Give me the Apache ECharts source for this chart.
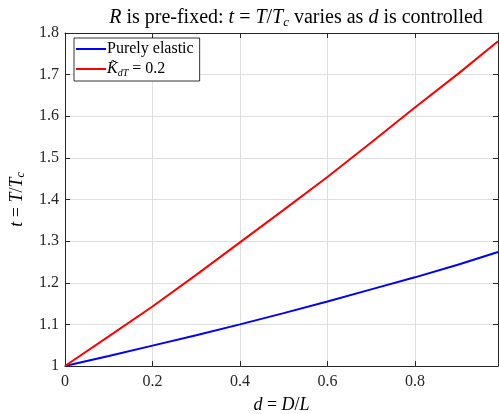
<!DOCTYPE html>
<html>
<head>
<meta charset="utf-8">
<script src="https://cdn.jsdelivr.net/npm/echarts@6/dist/echarts.min.js"></script>
<style>
html, body { margin: 0; padding: 0; background: #fff; }
#chartDiv { width: 499px; height: 414px; }
</style>
</head>
<body>
<div id="chartDiv"></div>
<script>
var myChart = echarts.init(document.getElementById('chartDiv'));

// d = D/L
var dValues = [0, 0.1, 0.2, 0.3, 0.4, 0.5, 0.6, 0.7, 0.8, 0.9, 0.99];
// t = T/Tc, purely elastic
var elasticT = [1, 1.024, 1.049, 1.074, 1.100, 1.127, 1.155, 1.184, 1.213, 1.244, 1.274];
// t = T/Tc, K_dT = 0.2
var kdtT = [1, 1.071, 1.143, 1.219, 1.297, 1.375, 1.454, 1.537, 1.621, 1.703, 1.780];
var seriesNames = ['Purely elastic', 'K\u0303dT = 0.2'];

function pairs(xs, ys) {
    return xs.map(function (x, i) { return [x, ys[i]]; });
}

var axisColor = '#262626';
var fontFam = 'Liberation Serif';
var rich = {
    i: { fontStyle: 'italic', fontFamily: fontFam, fontSize: 18, color: '#000' },
    s: { fontStyle: 'italic', fontFamily: fontFam, fontSize: 12, color: '#000', verticalAlign: 'bottom', padding: [8, 0, 0, 0] },
    n: { fontFamily: fontFam, fontSize: 18, color: '#000' }
};
var titleRich = {
    i: { fontStyle: 'italic', fontFamily: fontFam, fontSize: 20, color: '#000' },
    s: { fontStyle: 'italic', fontFamily: fontFam, fontSize: 13, color: '#000', verticalAlign: 'bottom', padding: [9, 0, 0, 0] },
    n: { fontFamily: fontFam, fontSize: 20, color: '#000' }
};

option = {
    backgroundColor: '#fff',
    animation: false,
    title: {
        text: '{i|R}{n| is pre-fixed: }{i|t}{n| = }{i|T}{n|/}{i|T}{s|c}{n| varies as }{i|d}{n| is controlled}',
        left: 291,
        textAlign: 'center',
        top: 2,
        textStyle: { fontWeight: 'normal', rich: titleRich }
    },
    legend: {
        orient: 'vertical',
        left: 74,
        top: 38,
        padding: [3, 6, 3, 2],
        itemGap: 4,
        itemWidth: 30,
        itemHeight: 2,
        icon: 'rect',
        borderColor: '#000',
        borderWidth: 0.8,
        borderRadius: 0,
        backgroundColor: '#fff',
        data: seriesNames,
        formatter: function (name) {
            if (name === seriesNames[1]) {
                return '{i|K\u0303}{s|dT}{n| = 0.2}';
            }
            return '{n|' + name + '}';
        },
        textStyle: {
            padding: [0, 0, 0, -4],
            rich: {
                i: { fontStyle: 'italic', fontFamily: fontFam, fontSize: 16, color: '#000', lineHeight: 18 },
                s: { fontStyle: 'italic', fontFamily: fontFam, fontSize: 10, color: '#000', verticalAlign: 'bottom', padding: [6, 0, 0, 0] },
                n: { fontFamily: fontFam, fontSize: 16, color: '#000', lineHeight: 18 }
            }
        }
    },
    grid: { left: 65, right: 1, top: 33, bottom: 48, containLabel: false, outerBoundsMode: 'none' },
    xAxis: [
        {
            type: 'value',
            min: 0,
            max: 0.99,
            interval: 0.2,
            name: '{i|d}{n| = }{i|D}{n|/}{i|L}',
            nameLocation: 'middle',
            nameGap: 30,
            nameTextStyle: { rich: rich },
            axisLine: { show: true, onZero: false, lineStyle: { color: axisColor, width: 1 } },
            axisTick: { show: true, inside: true, length: 5, lineStyle: { color: axisColor } },
            axisLabel: { color: '#262626', fontFamily: fontFam, fontSize: 16, margin: 8, showMaxLabel: false },
            splitLine: { show: true, lineStyle: { color: '#dfdfdf', width: 1 } }
        },
        {
            type: 'value',
            position: 'top',
            min: 0,
            max: 0.99,
            interval: 0.2,
            axisLine: { show: true, onZero: false, lineStyle: { color: axisColor, width: 1 } },
            axisTick: { show: true, inside: true, length: 5, lineStyle: { color: axisColor } },
            axisLabel: { show: false },
            splitLine: { show: false }
        }
    ],
    yAxis: [
        {
            type: 'value',
            min: 1,
            max: 1.8,
            interval: 0.1,
            name: '{i|t}{n| = }{i|T}{n|/}{i|T}{s|c}',
            nameLocation: 'middle',
            nameGap: 38,
            nameRotate: 90,
            nameTextStyle: { rich: rich },
            axisLine: { show: true, onZero: false, lineStyle: { color: axisColor, width: 1 } },
            axisTick: { show: true, inside: true, length: 5, lineStyle: { color: axisColor } },
            axisLabel: { color: '#262626', fontFamily: fontFam, fontSize: 16, margin: 6 },
            splitLine: { show: true, lineStyle: { color: '#dfdfdf', width: 1 } }
        },
        {
            type: 'value',
            position: 'right',
            min: 1,
            max: 1.8,
            interval: 0.1,
            axisLine: { show: true, onZero: false, lineStyle: { color: axisColor, width: 1 } },
            axisTick: { show: true, inside: true, length: 5, lineStyle: { color: axisColor } },
            axisLabel: { show: false },
            splitLine: { show: false }
        }
    ],
    series: [
        {
            name: seriesNames[0],
            type: 'line',
            data: pairs(dValues, elasticT),
            showSymbol: false,
            lineStyle: { color: '#0000ff', width: 2 },
            itemStyle: { color: '#0000ff' }
        },
        {
            name: seriesNames[1],
            type: 'line',
            data: pairs(dValues, kdtT),
            showSymbol: false,
            lineStyle: { color: '#ff0000', width: 2 },
            itemStyle: { color: '#ff0000' }
        }
    ]
};
myChart.setOption(option);
</script>
</body>
</html>
